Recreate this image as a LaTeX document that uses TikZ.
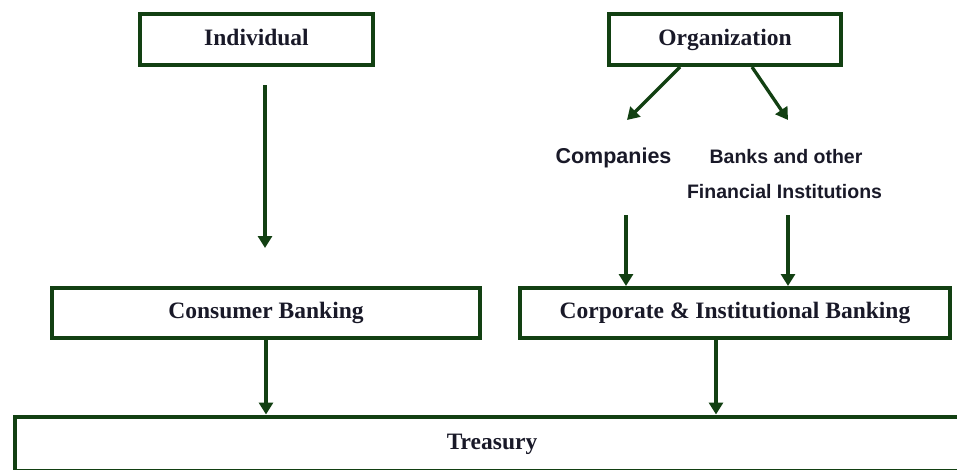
\documentclass[tikz,border=0pt]{standalone}
\usepackage{fontspec}
\setmainfont{Liberation Serif}
\newfontfamily\arialf{Liberation Sans}
\usetikzlibrary{arrows.meta}
\definecolor{dgreen}{RGB}{18,64,18}
\definecolor{ink}{RGB}{25,25,40}
\tikzset{
  box/.style={draw=dgreen, line width=4pt, fill=white, inner sep=0pt,
    text=ink, font=\fontsize{23.5}{28}\selectfont\bfseries,
    text height=17pt, text depth=6pt},
  lbl/.style={inner sep=0pt, anchor=base, text=ink},
  arr/.style={draw=dgreen, line width=3.3pt,
    -{Triangle[length=12pt,width=14pt]}}
}
\begin{document}
\begin{tikzpicture}[x=1pt,y=-1pt]
\useasboundingbox (0,0) rectangle (957,469);
% boxes
\node[box, minimum width=233pt, minimum height=51pt] (ind) at (256.5,39.5) {Individual};
\node[box, minimum width=232pt, minimum height=51pt] (org) at (725,39.5) {Organization};
\node[box, minimum width=428pt, minimum height=50pt] (cons) at (266,313) {Consumer Banking};
\node[box, minimum width=430pt, minimum height=50pt] (cor) at (735,313) {Corporate \& Institutional Banking};
\node[box, minimum width=954pt, minimum height=54pt] (tre) at (492,443.5) {Treasury};
% plain labels
\node[lbl, font=\arialf\fontsize{21.5}{25}\selectfont\bfseries] (comp) at (613.5,163) {Companies};
\node[lbl, font=\arialf\fontsize{19.5}{23}\selectfont\bfseries] (banks) at (786,163) {Banks and other};
\node[lbl, font=\arialf\fontsize{19.5}{23}\selectfont\bfseries] (fin) at (784.5,198) {Financial Institutions};
% free ends
\coordinate (i1) at (265,85);
\coordinate (i2) at (265,248);
\coordinate (o1) at (627,120);
\coordinate (o2) at (788,120);
\coordinate (c1) at (626,215);
\coordinate (b1) at (788,215);
% connectors
\draw[arr] (i1) -- (i2);
\draw[arr] ([xshift=-45pt]org.south) -- (o1);
\draw[arr] ([xshift=27pt]org.south) -- (o2);
\draw[arr] (c1) -- (c1 |- cor.north);
\draw[arr] (b1) -- (b1 |- cor.north);
\draw[arr] (cons.south) -- (cons.south |- tre.north);
\draw[arr] ([xshift=-19pt]cor.south) -- ([xshift=-19pt]cor.south |- tre.north);
\end{tikzpicture}
\end{document}
